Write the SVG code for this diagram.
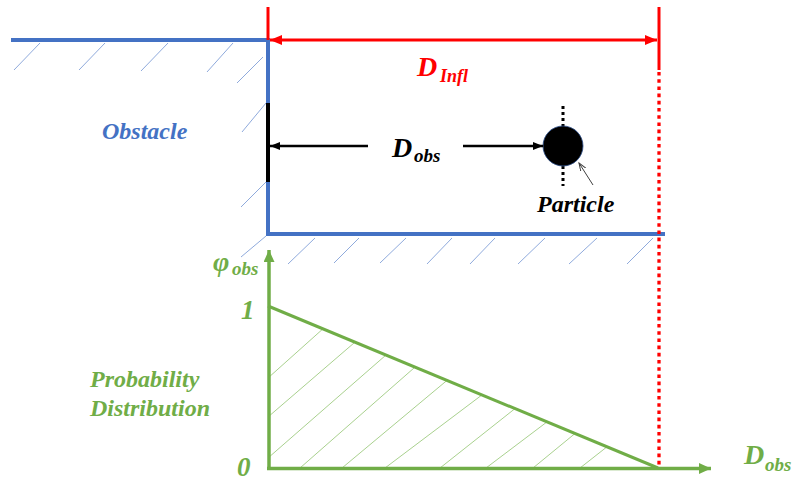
<svg xmlns="http://www.w3.org/2000/svg" width="796" height="481" viewBox="0 0 796 481">
<defs>
<style>
.wall{fill:none;stroke:#4472c4;stroke-width:4;stroke-linejoin:miter}
.bh{stroke:#8faadc;stroke-width:1;fill:none}
.gh{stroke:#a9d18e;stroke-width:1;fill:none}
.red{stroke:#ff0000;stroke-width:3;fill:none}
.blk{stroke:#000;stroke-width:2.5;fill:none}
.grn{stroke:#70ad47;stroke-width:3.5;fill:none}
.t{font-family:"Liberation Serif","Times New Roman",serif;font-weight:bold;font-style:italic}
</style>
<marker id="ar" markerUnits="userSpaceOnUse" markerWidth="14" markerHeight="12" refX="12" refY="5" orient="auto-start-reverse"><path d="M0,0 L12,5 L0,10 z" fill="#ff0000"/></marker>
<marker id="ab" markerUnits="userSpaceOnUse" markerWidth="12" markerHeight="10" refX="10" refY="4" orient="auto"><path d="M0,0 L10,4 L0,8 z" fill="#000"/></marker>
<marker id="ag" markerUnits="userSpaceOnUse" markerWidth="14" markerHeight="12" refX="12" refY="5.5" orient="auto"><path d="M0,0 L12,5.5 L0,11 z" fill="#70ad47"/></marker>
<marker id="ap" markerUnits="userSpaceOnUse" markerWidth="10" markerHeight="8" refX="8" refY="3" orient="auto"><path d="M0,0 L8,3 L0,6" fill="none" stroke="#404040" stroke-width="1"/></marker>
</defs>

<g id="obstacle">
<path class="wall" d="M11,40 H268 V234 H665"/>
<path class="bh" d="M40,43 L14,70 M105,43 L79,70 M168,43 L141,71 M233,43 L207,72 M263,57 L237,83 M266,103 L242,132 M266,182 L241,207 M266,236 L241,257 M315,238 L288,264 M359,238 L334,263 M406,238 L380,263 M452,238 L427,264 M495,238 L470,264 M545,238 L518,264 M597,238 L569,264 M653,238 L627,264"/>
<line x1="268" y1="103" x2="268" y2="182" stroke="#000" stroke-width="4"/>
<text class="t" x="102" y="139" font-size="24" fill="#4472c4">Obstacle</text>
</g>

<g id="particle">
<line x1="563" y1="106" x2="563" y2="127" stroke="#000" stroke-width="3" stroke-dasharray="3 3"/>
<line x1="563" y1="166" x2="563" y2="186" stroke="#000" stroke-width="3" stroke-dasharray="3 3"/>
<circle cx="563" cy="146" r="20" fill="#000" stroke="#2f528f" stroke-width="0.8"/>
<text class="t" x="537" y="212" font-size="24" fill="#000">Particle</text>
</g>

<g id="influence">
<line class="red" x1="268" y1="7" x2="268" y2="40"/>
<line class="red" x1="659" y1="7" x2="659" y2="70"/>
<line x1="659" y1="72" x2="659" y2="468" stroke="#ff0000" stroke-width="3.3" stroke-dasharray="3.6 3.6"/>
<text class="t" x="417" y="76" font-size="28" fill="#ff0000">D</text>
<text class="t" x="440" y="82" font-size="18" fill="#ff0000">Infl</text>
</g>

<g id="chart">
<path class="gh" d="M268,378 L323,328.8 M268,417 L355,342.1 M268,458 L386,355 M300,468 L415,367.1 M342,468 L447,380.4 M385,468 L482,394.9 M440,468 L515,408.6 M486,468 L547,421.9 M533,468 L575,433.5 M580,468 L607,446.8"/>
<line x1="268" y1="306" x2="658" y2="468" stroke="#70ad47" stroke-width="3"/>
<text class="t" x="213" y="271" font-size="28" fill="#70ad47">φ</text>
<text class="t" x="232" y="275" font-size="19" fill="#70ad47">obs</text>
<text class="t" x="241" y="319" font-size="27" fill="#70ad47">1</text>
<text class="t" x="237" y="476" font-size="27" fill="#70ad47">0</text>
<text class="t" x="90" y="387" font-size="24" fill="#70ad47">Probability</text>
<text class="t" x="90" y="416" font-size="24" fill="#70ad47">Distribution</text>
<text class="t" x="744" y="464" font-size="28" fill="#70ad47">D</text>
<text class="t" x="765" y="471" font-size="19" fill="#70ad47">obs</text>
</g>

<g id="connectors">
<line class="red" x1="270" y1="40" x2="657" y2="40" marker-start="url(#ar)" marker-end="url(#ar)"/>
<line class="blk" x1="368" y1="146" x2="270" y2="146" marker-end="url(#ab)"/>
<line class="blk" x1="463" y1="146" x2="543" y2="146" marker-end="url(#ab)"/>
<line x1="593" y1="185" x2="579" y2="163" stroke="#404040" stroke-width="1" marker-end="url(#ap)"/>
<line class="grn" x1="269" y1="470" x2="269" y2="250" marker-end="url(#ag)"/>
<line class="grn" x1="267" y1="468.5" x2="711" y2="468.5" marker-end="url(#ag)"/>
<text class="t" x="392" y="157" font-size="28" fill="#000">D</text>
<text class="t" x="414" y="162" font-size="19" fill="#000">obs</text>
</g>
</svg>
